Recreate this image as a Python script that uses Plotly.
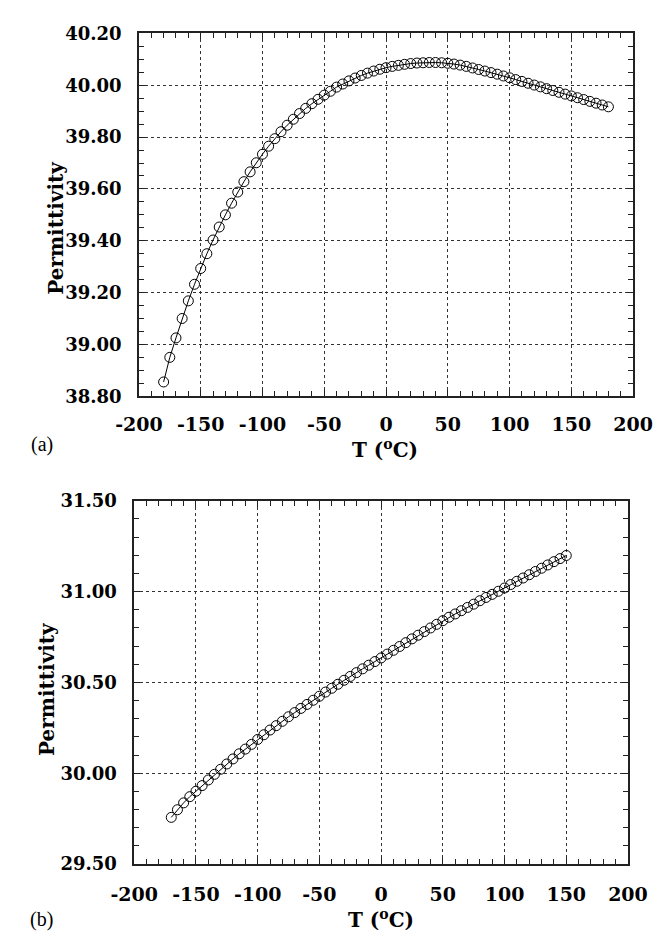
import plotly.graph_objects as go

# ---- data ----
temp_a = [-180, -175, -170, -165, -160, -155, -150, -145, -140, -135, -130, -125,
          -120, -115, -110, -105, -100, -95, -90, -85, -80, -75, -70, -65,
          -60, -55, -50, -45, -40, -35, -30, -25, -20, -15, -10, -5,
          0, 5, 10, 15, 20, 25, 30, 35, 40, 45, 50, 55,
          60, 65, 70, 75, 80, 85, 90, 95, 100, 105, 110, 115,
          120, 125, 130, 135, 140, 145, 150, 155, 160, 165, 170, 175, 180]
perm_a = [38.855, 38.950, 39.025, 39.100, 39.168, 39.232, 39.293, 39.350, 39.403, 39.453, 39.500, 39.545,
          39.588, 39.628, 39.666, 39.701, 39.734, 39.765, 39.794, 39.821, 39.846, 39.869, 39.891, 39.911,
          39.929, 39.946, 39.962, 39.977, 39.993, 40.005, 40.017, 40.028, 40.038, 40.047, 40.055, 40.062,
          40.068, 40.073, 40.077, 40.081, 40.084, 40.086, 40.087, 40.088, 40.088, 40.087, 40.085, 40.082,
          40.078, 40.073, 40.067, 40.061, 40.055, 40.049, 40.043, 40.036, 40.029, 40.022, 40.015, 40.008,
          40.001, 39.994, 39.987, 39.980, 39.973, 39.966, 39.959, 39.952, 39.945, 39.938, 39.931, 39.924, 39.917]

temp_b = [-170, -165, -160, -155, -150, -145, -140, -135, -130, -125, -120, -115,
          -110, -105, -100, -95, -90, -85, -80, -75, -70, -65, -60, -55,
          -50, -45, -40, -35, -30, -25, -20, -15, -10, -5, 0, 5,
          10, 15, 20, 25, 30, 35, 40, 45, 50, 55, 60, 65,
          70, 75, 80, 85, 90, 95, 100, 105, 110, 115, 120, 125,
          130, 135, 140, 145, 150]
perm_b = [29.757, 29.799, 29.837, 29.871, 29.901, 29.932, 29.963, 29.994, 30.022, 30.051, 30.079, 30.107,
          30.133, 30.159, 30.186, 30.212, 30.238, 30.262, 30.286, 30.311, 30.334, 30.357, 30.379, 30.402,
          30.424, 30.447, 30.468, 30.490, 30.512, 30.533, 30.554, 30.575, 30.595, 30.615, 30.635, 30.656,
          30.677, 30.698, 30.719, 30.740, 30.760, 30.780, 30.800, 30.820, 30.840, 30.859, 30.877, 30.895,
          30.913, 30.931, 30.950, 30.968, 30.985, 31.002, 31.020, 31.039, 31.057, 31.075, 31.093, 31.111,
          31.129, 31.147, 31.165, 31.182, 31.199]

x_ticks = [-200, -150, -100, -50, 0, 50, 100, 150, 200]
y_ticks_a = [38.80, 39.00, 39.20, 39.40, 39.60, 39.80, 40.00, 40.20]
y_ticks_b = [29.50, 30.00, 30.50, 31.00, 31.50]

W, H = 669, 942
BFONT = "DejaVu Serif"
RFONT = "Liberation Serif"

fig = go.Figure()

marker = dict(symbol="circle-open", size=10, color="black", line=dict(width=1, color="black"))
fig.add_trace(go.Scatter(x=temp_a, y=perm_a, mode="lines+markers", marker=marker,
                         line=dict(color="black", width=1), xaxis="x", yaxis="y", showlegend=False))
fig.add_trace(go.Scatter(x=temp_b, y=perm_b, mode="lines+markers", marker=marker,
                         line=dict(color="black", width=1), xaxis="x2", yaxis="y2", showlegend=False))

xtickfont = dict(family=BFONT, size=19, color="black", weight="bold")
ytickfont = dict(family=BFONT, size=18, color="black", weight="bold")

def xax(domain, anchor, standoff):
    return dict(domain=domain, anchor=anchor, range=[-200, 200], tickvals=x_ticks,
                ticktext=[str(v) for v in x_ticks], ticks="inside", ticklen=6, tickcolor="#222",
                showline=True, linecolor="#222", linewidth=1.5, mirror="allticks",
                showgrid=True, gridcolor="#333", gridwidth=1, griddash="dot",
                minor=dict(dtick=10, ticks="inside", ticklen=5, tickcolor="#222", showgrid=False),
                tickfont=xtickfont, zeroline=False, ticklabelstandoff=standoff)

def yax(domain, anchor, rng, vals, mdt):
    return dict(domain=domain, anchor=anchor, range=rng, tickvals=vals,
                ticktext=[f"{v:.2f}" for v in vals], ticks="inside", ticklen=6, tickcolor="#222",
                showline=True, linecolor="#222", linewidth=1.5, mirror="allticks",
                showgrid=True, gridcolor="#333", gridwidth=1, griddash="dot",
                minor=dict(dtick=mdt, ticks="inside", ticklen=5, tickcolor="#222", showgrid=False),
                tickfont=ytickfont, zeroline=False, ticklabelstandoff=12)

# pixel boxes of the two plot areas
ax_top = dict(x0=123, x1=652, y0=23, y1=394)
ax_bot = dict(x0=118, x1=646.5, y0=501, y1=872.5)

def dom_x(b):
    return [b["x0"] / W, b["x1"] / W]

def dom_y(b):
    return [1 - b["y1"] / H, 1 - b["y0"] / H]

fig.update_layout(
    width=W, height=H, margin=dict(l=0, r=0, t=0, b=0),
    paper_bgcolor="white", plot_bgcolor="white",
    xaxis=xax(dom_x(ax_top), "y", 10),
    yaxis=yax(dom_y(ax_top), "x", [38.8, 40.2], y_ticks_a, 0.05),
    xaxis2=xax(dom_x(ax_bot), "y2", 12),
    yaxis2=yax(dom_y(ax_bot), "x2", [29.5, 31.5], y_ticks_b, 0.1),
)

title_font = dict(family=BFONT, size=20, color="black", weight="bold")
lab_font = dict(family=RFONT, size=20, color="black")

def ann(text, px, py, font, angle=0):
    fig.add_annotation(text=text, x=px / W, y=1 - py / H, xref="paper", yref="paper",
                       showarrow=False, font=font, textangle=angle,
                       xanchor="center", yanchor="middle")

ann("Permittivity", 34, 222, title_font, -90)
ann("Permittivity", 24, 693, title_font, -90)
ann("T (<sup>o</sup>C)", 386, 448, title_font)
ann("T (<sup>o</sup>C)", 382, 929, title_font)
ann("(a)", 19, 443, lab_font)
ann("(b)", 19, 929, lab_font)

fig.write_html("out.html")
